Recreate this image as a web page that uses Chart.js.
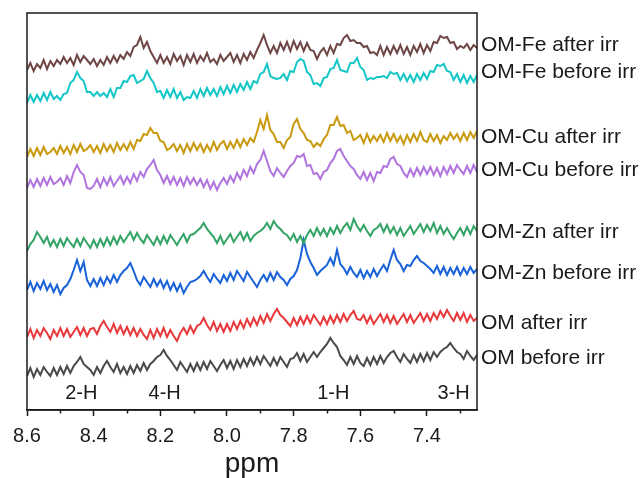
<!DOCTYPE html>
<html>
<head>
<meta charset="utf-8">
<script src="https://cdn.jsdelivr.net/npm/chart.js@4.4.1/dist/chart.umd.min.js"></script>
<style>
  html, body { margin: 0; padding: 0; background: #fff; }
</style>
</head>
<body>
<canvas id="grafica" width="643" height="478"></canvas>
<script>
/* Espectros 1H-NMR apilados (8.6 -> 7.25 ppm), leídos a mano del original */

// Eje x: desplazamiento químico, paso de 0.01 ppm
const PPM_START = 8.6;
const PPM_STEP = 0.01;
const PPM_MIN = 7.25;
const MAJOR_TICKS = [8.6, 8.4, 8.2, 8.0, 7.8, 7.6, 7.4];
const MINOR_TICKS = [8.5, 8.3, 8.1, 7.9, 7.7, 7.5, 7.3];

// Nombres de las series (de arriba hacia abajo)
const seriesNames = [
  "OM-Fe after irr", "OM-Fe before irr",
  "OM-Cu after irr", "OM-Cu before irr",
  "OM-Zn after irr", "OM-Zn before irr",
  "OM after irr", "OM before irr"
];
const seriesColors = ["#6e4646", "#14c6c6", "#c99a10", "#b074de", "#34a466", "#1a62d8", "#e8393c", "#4a4a4a"];

// Altura del texto de cada serie (misma escala que la intensidad)
const labelLevels = [365, 338, 273, 240, 178, 137, 87, 52];

// Asignación de picos
const peakNames = ["2-H", "4-H", "1-H", "3-H"];
const peakPpm = [8.437, 8.187, 7.681, 7.32];
const peakLevel = 17;

// Intensidades (unidades arbitrarias, con desplazamiento vertical incluido)
const omFeAfter = [
  340, 347, 339, 346, 342, 350, 341, 349, 344, 350,
  346, 353, 347, 352, 345, 355, 348, 354, 350, 346,
  351, 344, 350, 345, 353, 347, 354, 348, 355, 351,
  358, 354, 363, 365, 373, 362, 368, 359, 353, 347,
  355, 347, 353, 346, 356, 349, 354, 345, 355, 348,
  356, 347, 354, 349, 357, 348, 351, 346, 355, 349,
  353, 357, 348, 355, 347, 356, 350, 358, 352, 360,
  367, 375, 365, 357, 364, 357, 367, 360, 368, 359,
  369, 361, 368, 359, 367, 360, 359, 351, 358, 362,
  355, 364, 357, 366, 365, 372, 375, 369, 370, 367,
  367, 363, 364, 357, 358, 355, 364, 355, 363, 356,
  364, 357, 365, 356, 363, 355, 364, 358, 366, 357,
  365, 359, 368, 367, 374, 372, 373, 367, 368, 361,
  364, 362, 366, 360, 365, 362
];
const omFeBefore = [
  307, 315, 308, 315, 309, 317, 310, 318, 311, 314,
  310, 316, 317, 327, 330, 338, 332, 329, 318, 318,
  314, 318, 314, 317, 313, 321, 313, 322, 322, 329,
  328, 334, 335, 327, 329, 331, 339, 332, 327, 318,
  319, 312, 320, 313, 321, 312, 318, 310, 313, 312,
  319, 312, 321, 314, 322, 315, 321, 314, 323, 316,
  324, 317, 325, 318, 326, 320, 328, 321, 329, 327,
  336, 338, 346, 334, 332, 331, 332, 336, 330, 339,
  338, 348, 351, 349, 338, 335, 326, 327, 324, 332,
  333, 341, 342, 350, 340, 339, 338, 347, 347, 352,
  343, 340, 330, 332, 331, 333, 333, 334, 332, 338,
  336, 337, 330, 336, 329, 335, 328, 336, 330, 337,
  331, 339, 338, 345, 344, 346, 339, 338, 330, 336,
  328, 335, 327, 334, 328, 335
];
const omCuAfter = [
  253, 261, 254, 262, 255, 263, 256, 258, 262, 256,
  264, 257, 263, 256, 265, 258, 266, 259, 261, 265,
  258, 264, 257, 266, 259, 265, 258, 267, 260, 266,
  260, 268, 261, 270, 269, 276, 275, 282, 277, 277,
  269, 268, 260, 262, 266, 259, 265, 257, 266, 259,
  267, 260, 266, 258, 265, 259, 268, 260, 266, 269,
  261, 268, 262, 270, 263, 271, 265, 272, 268, 278,
  290, 281, 295, 280, 276, 268, 268, 262, 270, 273,
  286, 291, 281, 277, 270, 269, 263, 267, 264, 271,
  275, 285, 285, 293, 284, 285, 277, 279, 270, 272,
  275, 267, 276, 268, 274, 269, 275, 268, 277, 269,
  276, 268, 274, 266, 275, 268, 276, 269, 278, 270,
  268, 276, 269, 275, 267, 274, 270, 277, 271, 276,
  269, 277, 270, 278, 272, 279
];
const omCuBefore = [
  222, 230, 223, 231, 224, 232, 225, 233, 226, 228,
  232, 225, 234, 227, 238, 245, 238, 235, 222, 221,
  224, 231, 223, 232, 225, 233, 224, 229, 234, 226,
  233, 227, 236, 229, 238, 233, 241, 245, 250, 240,
  235, 227, 234, 226, 233, 225, 232, 224, 233, 226,
  232, 225, 231, 223, 230, 221, 228, 220, 227, 232,
  226, 234, 228, 237, 231, 240, 234, 243, 237, 246,
  250, 259, 249, 239, 234, 242, 237, 233, 239, 244,
  247, 254, 253, 256, 244, 245, 236, 237, 231, 238,
  240, 247, 251, 259, 261, 254, 249, 244, 241, 235,
  231, 238, 230, 237, 229, 238, 237, 244, 243, 251,
  253, 246, 244, 237, 233, 241, 234, 242, 235, 243,
  236, 243, 235, 242, 234, 243, 236, 244, 237, 245,
  240, 236, 244, 237, 245, 238
];
const omZnAfter = [
  159, 166, 170, 178, 173, 167, 173, 164, 170, 163,
  171, 164, 172, 167, 163, 171, 164, 172, 167, 162,
  170, 163, 171, 164, 172, 165, 173, 166, 174, 168,
  173, 178, 170, 177, 171, 167, 175, 170, 165, 173,
  166, 174, 167, 175, 170, 165, 171, 176, 168, 175,
  176, 179, 182, 187, 181, 177, 173, 167, 174, 166,
  171, 176, 168, 173, 178, 170, 177, 169, 174, 177,
  179, 182, 187, 181, 189, 184, 181, 177, 175, 170,
  176, 168, 174, 167, 175, 180, 174, 182, 175, 181,
  174, 182, 176, 184, 177, 183, 187, 180, 191, 184,
  179, 185, 179, 174, 180, 182, 186, 178, 185, 177,
  183, 175, 182, 174, 179, 184, 176, 181, 186, 178,
  185, 179, 187, 177, 184, 176, 182, 176, 171, 177,
  182, 175, 183, 176, 184, 179
];
const omZnBefore = [
  120, 128, 119, 127, 121, 129, 120, 126, 118, 125,
  116, 122, 125, 131, 140, 150, 139, 148, 130, 124,
  131, 124, 132, 125, 133, 127, 135, 128, 135, 139,
  142, 147, 139, 130, 125, 133, 128, 123, 131, 124,
  130, 122, 129, 120, 127, 119, 126, 117, 123, 128,
  129, 131, 134, 139, 133, 128, 136, 131, 127, 135,
  129, 137, 130, 139, 134, 129, 138, 133, 128, 123,
  130, 135, 129, 137, 130, 138, 133, 130, 125, 131,
  134, 140, 152, 170, 156, 148, 142, 135, 139, 142,
  145, 152, 145, 160, 146, 142, 136, 143, 137, 133,
  140, 132, 139, 133, 141, 134, 140, 145, 139, 150,
  160, 150, 146, 139, 145, 144, 150, 154, 149, 147,
  144, 141, 137, 144, 136, 143, 135, 142, 136, 143,
  135, 142, 136, 143, 137, 141
];
const omAfter = [
  73, 81, 72, 80, 74, 82, 77, 71, 80, 74,
  82, 74, 81, 73, 78, 83, 75, 82, 74, 81,
  82, 76, 84, 89, 83, 78, 86, 77, 84, 76,
  83, 75, 82, 74, 81, 75, 71, 80, 72, 81,
  74, 82, 73, 80, 74, 69, 77, 82, 76, 84,
  77, 84, 86, 92, 85, 80, 88, 79, 86, 78,
  86, 79, 88, 81, 89, 82, 91, 84, 92, 85,
  94, 87, 96, 89, 96, 101, 95, 92, 88, 84,
  92, 85, 93, 86, 94, 87, 95, 90, 85, 93,
  86, 94, 87, 95, 88, 96, 89, 95, 99, 91,
  90, 95, 87, 94, 86, 91, 96, 88, 95, 87,
  94, 86, 91, 96, 88, 95, 87, 92, 97, 89,
  96, 89, 97, 91, 99, 93, 100, 94, 89, 97,
  90, 97, 88, 95, 89, 92
];
const omBefore = [
  34, 42, 33, 41, 35, 43, 38, 34, 42, 35,
  43, 36, 44, 37, 44, 48, 53, 46, 43, 40,
  35, 43, 37, 44, 49, 43, 38, 46, 37, 43,
  36, 44, 37, 45, 39, 47, 40, 46, 49, 53,
  55, 60, 54, 50, 45, 40, 48, 43, 38, 46,
  39, 47, 40, 48, 41, 49, 44, 39, 45, 50,
  42, 49, 41, 50, 43, 51, 44, 52, 45, 53,
  46, 54, 49, 44, 52, 45, 53, 48, 43, 51,
  52, 57, 49, 56, 48, 53, 58, 53, 58, 62,
  66, 72, 67, 63, 54, 50, 45, 53, 46, 54,
  47, 44, 52, 45, 53, 46, 54, 47, 53, 57,
  59, 53, 48, 56, 51, 47, 55, 48, 56, 49,
  57, 50, 58, 53, 58, 61, 63, 67, 62, 58,
  56, 51, 59, 54, 50, 55
];

const seriesValues = [omFeAfter, omFeBefore, omCuAfter, omCuBefore, omZnAfter, omZnBefore, omAfter, omBefore];

const FONT = '"Liberation Sans", Arial, sans-serif';
const INK = "#1a1a1a";

// Puntos {x: ppm, y: intensidad}
const toPoints = (vals) => vals.map((v, i) => ({ x: +(PPM_START - i * PPM_STEP).toFixed(2), y: v }));

const datasets = seriesValues.map((vals, k) => ({
  label: seriesNames[k],
  data: toPoints(vals),
  borderColor: seriesColors[k],
  borderWidth: 2,
  pointRadius: 0,
  tension: 0,
  fill: false,
}));

// Marco, ticks menores, nombres de series y asignaciones
const decorPlugin = {
  id: "decor",
  afterDraw(chart) {
    const { ctx, chartArea: a, scales } = chart;
    const xs = scales.x, ys = scales.y;
    ctx.save();
    ctx.strokeStyle = INK;
    ctx.lineWidth = 1.5;
    ctx.strokeRect(a.left, a.top, a.right - a.left, a.bottom - a.top);

    // ticks menores
    ctx.beginPath();
    MINOR_TICKS.forEach((v) => {
      const px = Math.round(xs.getPixelForValue(v)) + 0.5;
      ctx.moveTo(px, a.bottom);
      ctx.lineTo(px, a.bottom + 3.5);
    });
    ctx.stroke();

    // nombres de series a la derecha
    ctx.fillStyle = INK;
    ctx.font = "21px " + FONT;
    ctx.textAlign = "left";
    ctx.textBaseline = "middle";
    seriesNames.forEach((name, k) => {
      ctx.fillText(name, a.right + 4, ys.getPixelForValue(labelLevels[k]));
    });

    // etiquetas de los protones
    ctx.font = "20px " + FONT;
    ctx.textAlign = "center";
    peakNames.forEach((name, k) => {
      ctx.fillText(name, xs.getPixelForValue(peakPpm[k]), ys.getPixelForValue(peakLevel));
    });
    ctx.restore();
  },
};

new Chart(document.getElementById("grafica"), {
  type: "line",
  data: { datasets },
  options: {
    responsive: false,
    animation: false,
    events: [],
    layout: { padding: { left: 27, right: 166, top: 13, bottom: 0 } },
    plugins: { legend: { display: false }, tooltip: { enabled: false } },
    scales: {
      x: {
        type: "linear",
        reverse: true,
        min: PPM_MIN,
        max: PPM_START,
        afterBuildTicks: (s) => { s.ticks = MAJOR_TICKS.map((v) => ({ value: v })); },
        afterFit: (s) => { s.height = 68; },
        ticks: {
          autoSkip: false,
          maxRotation: 0,
          padding: 8,
          color: INK,
          font: { family: FONT, size: 20 },
          callback: (v) => Number(v).toFixed(1),
        },
        grid: {
          drawOnChartArea: false,
          tickLength: 6,
          tickColor: INK,
          tickWidth: 1.5,
        },
        border: { display: true, color: INK, width: 1.5 },
        title: {
          display: true,
          text: "ppm",
          color: INK,
          font: { family: FONT, size: 28, lineHeight: 1 },
          padding: { top: 0, bottom: 0 },
        },
      },
      y: {
        display: false,
        min: 0,
        max: 397,
      },
    },
  },
  plugins: [decorPlugin],
});
</script>
</body>
</html>
